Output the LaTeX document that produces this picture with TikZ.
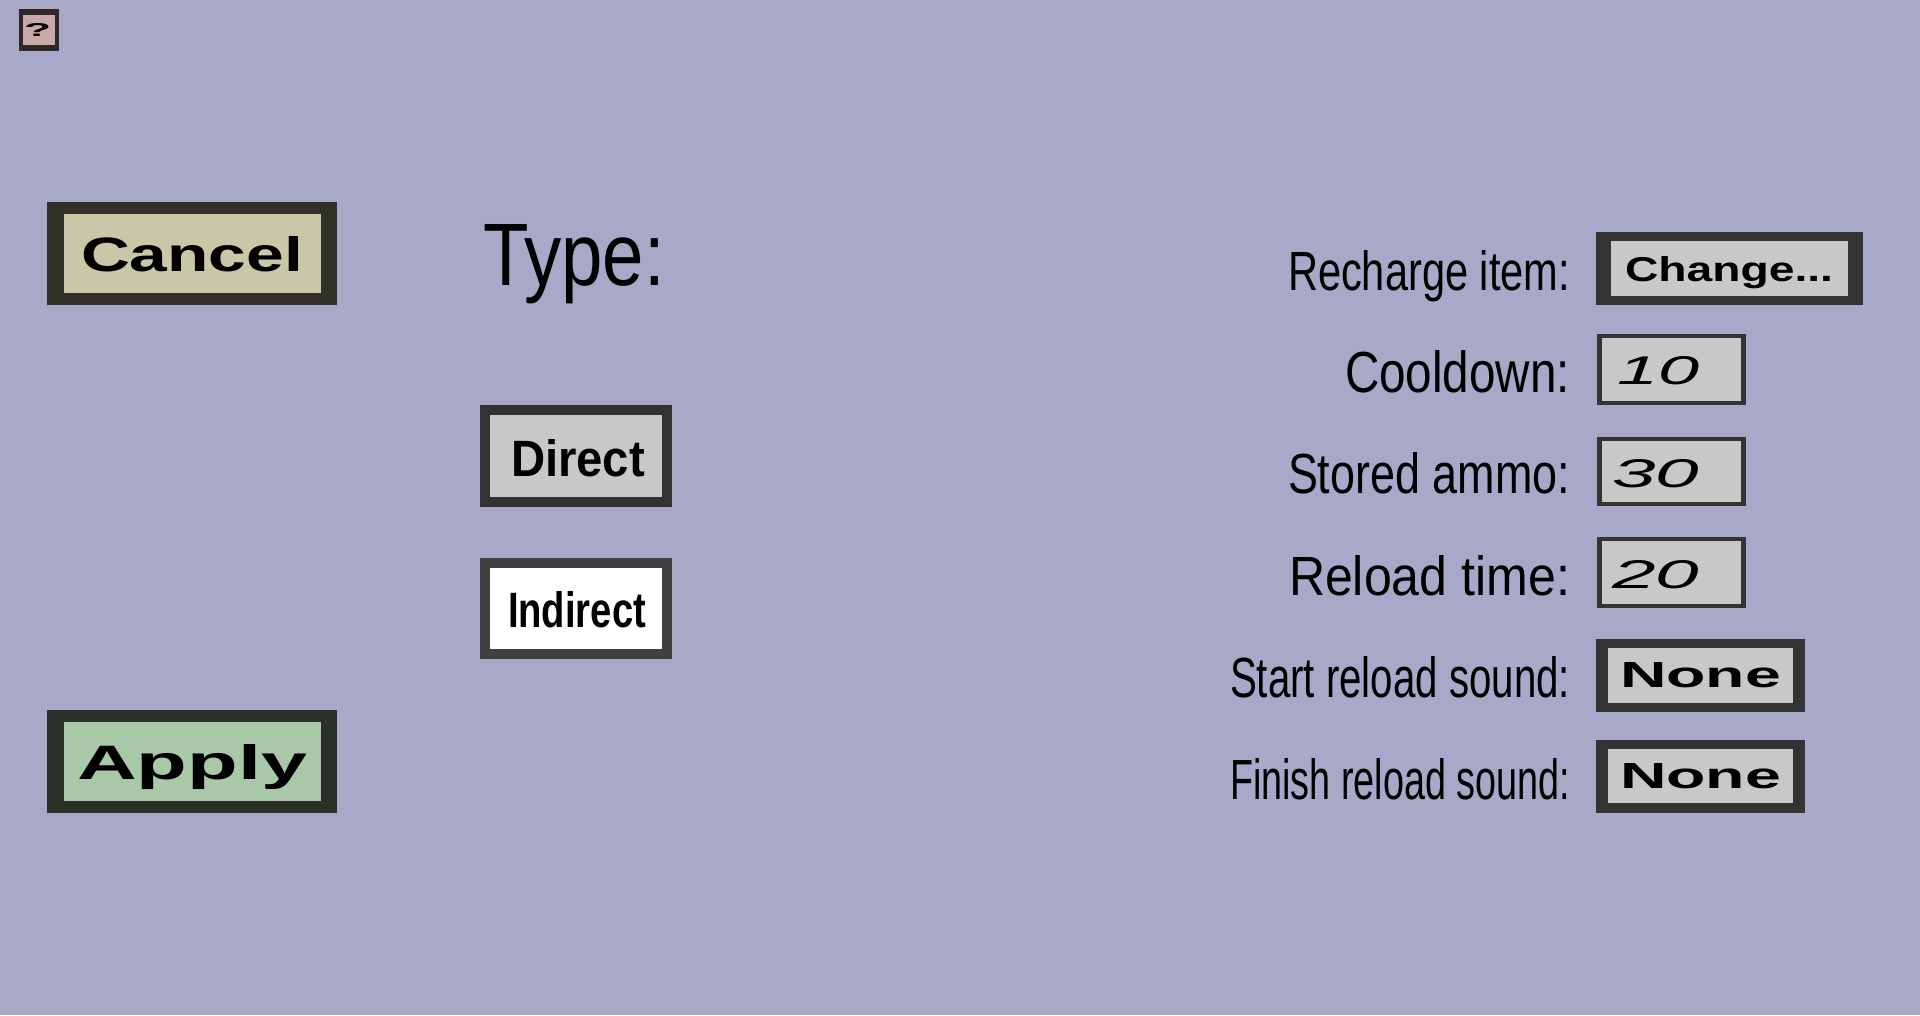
\documentclass[tikz,border=0pt]{standalone}
\usepackage{fontspec}
\usepackage{graphicx}
\setmainfont{Liberation Sans}
\definecolor{bgc}{RGB}{168,168,200}
\definecolor{btngray}{RGB}{200,200,200}
\definecolor{bordgray}{RGB}{51,51,51}
\definecolor{bordind}{RGB}{64,64,64}
\definecolor{cancelfill}{RGB}{200,200,168}
\definecolor{cancelbord}{RGB}{48,48,40}
\definecolor{applyfill}{RGB}{168,200,168}
\definecolor{applybord}{RGB}{40,48,40}
\definecolor{helpfill}{RGB}{200,168,168}
\definecolor{helpbord}{RGB}{48,40,40}
% name, x, baseline, width, height, text
\newcommand\uitext[6]{%
  \node[anchor=base west, inner sep=0pt, outer sep=0pt] (#1) at (#2,#3) {\resizebox{#4pt}{#5pt}{#6}};}
% name, outer x1,y1,x2,y2, inner x1,y1,x2,y2, border colour, fill colour
\newcommand\uibox[5]{%
  \fill[#4] #2; \fill[#5] #3;
  \coordinate (#1) at (0,0);}
\begin{document}
\begin{tikzpicture}[x=1pt,y=-1pt]
\useasboundingbox (0,0) rectangle (1920,1015);
\fill[bgc] (0,0) rectangle (1920,1015);

% help button
\fill[helpbord] (19,9) rectangle (59,51);
\fill[helpfill] (23,15) rectangle (55,45);
\uitext{help}{24}{36}{27}{13}{\bfseries ?}

% Cancel
\fill[cancelbord] (47,202) rectangle (337,305);
\fill[cancelfill] (64,214) rectangle (321,293);
\uitext{cancel}{81}{271}{222}{35}{\bfseries Cancel}

% Apply
\fill[applybord] (47,710) rectangle (337,813);
\fill[applyfill] (64,722) rectangle (321,801);
\uitext{apply}{77}{779}{230}{35}{\bfseries Apply}

% Type
\uitext{type}{483}{285}{182}{61}{Type:}

% Direct
\fill[bordgray] (480,405) rectangle (672,507);
\fill[btngray] (490,415) rectangle (662,497);
\uitext{direct}{511}{476}{134}{37}{\bfseries Direct}

% Indirect
\fill[bordind] (480,558) rectangle (672,659);
\fill[white] (490,568) rectangle (662,649);
\uitext{indirect}{508}{627}{138}{36}{\bfseries Indirect}

% Right column labels
\uitext{lrecharge}{1288}{290}{282}{40}{Recharge item:}
\uitext{lcool}{1345}{392}{225}{42}{Cooldown:}
\uitext{lstored}{1288}{493}{282}{41}{Stored ammo:}
\uitext{lreload}{1289}{595}{281}{40}{Reload time:}
\uitext{lstart}{1230}{697}{340}{41}{Start reload sound:}
\uitext{lfinish}{1230}{799}{340}{41}{Finish reload sound:}

% Change...
\fill[bordgray] (1596,232) rectangle (1863,305);
\fill[btngray] (1611,241) rectangle (1848,296);
\uitext{change}{1625}{281}{208}{25}{\bfseries Change...}

% value fields
\fill[bordgray] (1597,334) rectangle (1746,405);
\fill[btngray] (1602,338) rectangle (1741,401);
\uitext{vcool}{1617}{384}{82}{28}{\itshape 10}

\fill[bordgray] (1597,437) rectangle (1746,506);
\fill[btngray] (1602,441) rectangle (1741,502);
\uitext{vstored}{1612}{487}{87}{28}{\itshape 30}

\fill[bordgray] (1597,537) rectangle (1746,608);
\fill[btngray] (1602,541) rectangle (1741,604);
\uitext{vreload}{1612}{588}{87}{28}{\itshape 20}

% None buttons
\fill[bordgray] (1596,639) rectangle (1805,712);
\fill[btngray] (1608,648) rectangle (1793,703);
\uitext{nstart}{1620}{687}{161}{25}{\bfseries None}

\fill[bordgray] (1596,740) rectangle (1805,813);
\fill[btngray] (1608,749) rectangle (1793,803);
\uitext{nfinish}{1620}{788}{161}{25}{\bfseries None}
\end{tikzpicture}
\end{document}
